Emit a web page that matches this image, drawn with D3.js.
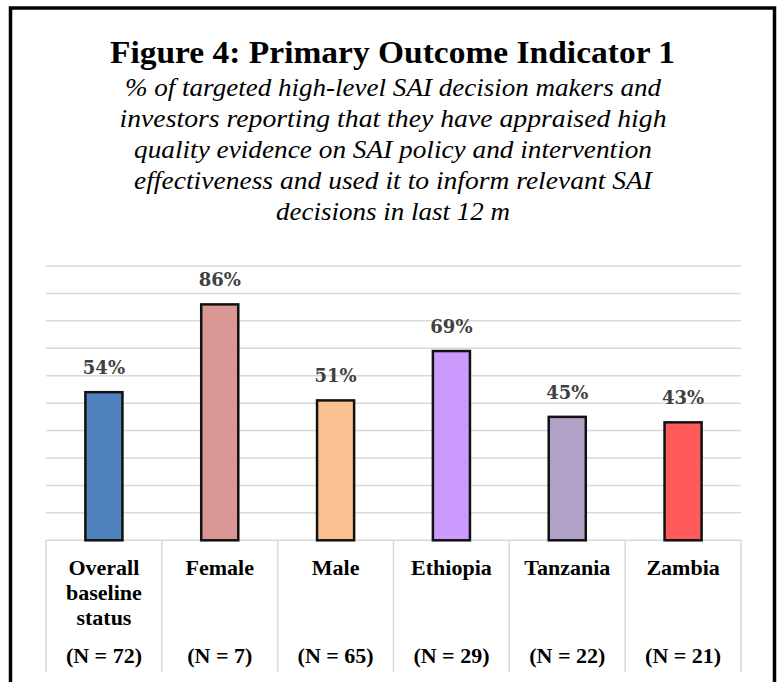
<!DOCTYPE html>
<html>
<head>
<meta charset="utf-8">
<script src="https://cdn.jsdelivr.net/npm/d3@7"></script>
<style>
  body { margin: 0; background: #fff; }
  .title { font-family: "Liberation Serif", serif; font-weight: bold; fill: #000; }
  .subtitle { font-family: "Liberation Serif", serif; font-style: italic; fill: #000; }
  .cat-label { font-family: "Liberation Serif", serif; font-weight: bold; fill: #000; }
  .value-label { font-family: "DejaVu Serif", serif; font-weight: bold; fill: #404040; }
</style>
</head>
<body>
<div id="vis"></div>
<script>
// chart data
const categories = ['Overall baseline status', 'Female', 'Male', 'Ethiopia', 'Tanzania', 'Zambia'];
const labelLines = [['Overall', 'baseline', 'status'], ['Female'], ['Male'], ['Ethiopia'], ['Tanzania'], ['Zambia']];
const sampleSizes = [72, 7, 65, 29, 22, 21];
const values = [54, 86, 51, 69, 45, 43];
const barColors = ['#4F81BD', '#D99694', '#FAC090', '#CC99FF', '#B3A2C7', '#FF5B5B'];
const gridTicks = [0, 10, 20, 30, 40, 50, 60, 70, 80, 90, 100];

const titleText = 'Figure 4: Primary Outcome Indicator 1';
const subtitleLines = [
  '% of targeted high-level SAI decision makers and',
  'investors reporting that they have appraised high',
  'quality evidence on SAI policy and intervention',
  'effectiveness and used it to inform relevant SAI',
  'decisions in last 12 m'
];
const subtitleWidths = [536, 547, 518, 518, 234];

const W = 781, H = 682;
// plot area (the table below shares the same left/right edges)
const plot = {left: 46, right: 741, top: 266, bottom: 540.3, tableBottom: 672};

const svg = d3.select('#vis')
  .append('svg')
  .attr('width', W)
  .attr('height', H);

// outer frame, open at the bottom
svg.append('path')
  .attr('d', `M10.5,${H} V8 H774.5 V${H}`)
  .attr('fill', 'none')
  .attr('stroke', '#000')
  .attr('stroke-width', 3.5);

// title + subtitle
svg.append('text')
  .attr('class', 'title')
  .attr('x', 392.5)
  .attr('y', 63)
  .attr('text-anchor', 'middle')
  .attr('font-size', 32)
  .attr('textLength', 565)
  .attr('lengthAdjust', 'spacingAndGlyphs')
  .text(titleText);

svg.selectAll('.subtitle')
  .data(subtitleLines)
  .join('text')
  .attr('class', 'subtitle')
  .attr('x', 393)
  .attr('y', (d, i) => 95.5 + i * 31)
  .attr('text-anchor', 'middle')
  .attr('font-size', 25)
  .attr('textLength', (d, i) => subtitleWidths[i])
  .attr('lengthAdjust', 'spacingAndGlyphs')
  .text(d => d);

// scales
const xScale = d3.scaleBand()
  .domain(categories)
  .range([plot.left, plot.right])
  .padding(0);

const yScale = d3.scaleLinear()
  .domain([0, 100])
  .range([plot.bottom, plot.top]);

const barW = xScale.bandwidth() * 0.32;

// horizontal gridlines
svg.append('g')
  .selectAll('line')
  .data(gridTicks)
  .join('line')
  .attr('x1', plot.left)
  .attr('x2', plot.right)
  .attr('y1', d => yScale(d))
  .attr('y2', d => yScale(d))
  .attr('stroke', '#d9d9d9')
  .attr('stroke-width', 1.5);

// table vertical lines under the axis
const boundaries = categories.map(c => xScale(c)).concat([plot.right]);
svg.append('g')
  .selectAll('line')
  .data(boundaries)
  .join('line')
  .attr('x1', d => d)
  .attr('x2', d => d)
  .attr('y1', yScale(0))
  .attr('y2', plot.tableBottom)
  .attr('stroke', '#d9d9d9')
  .attr('stroke-width', 1.5);

// bars
svg.selectAll('.bar')
  .data(values)
  .join('rect')
  .attr('class', 'bar')
  .attr('x', (d, i) => xScale(categories[i]) + (xScale.bandwidth() - barW) / 2)
  .attr('y', d => yScale(d))
  .attr('width', barW)
  .attr('height', d => yScale(0) - yScale(d))
  .attr('fill', (d, i) => barColors[i])
  .attr('stroke', '#111')
  .attr('stroke-width', 2.5);

// value labels
svg.selectAll('.value-label')
  .data(values)
  .join('text')
  .attr('class', 'value-label')
  .attr('x', (d, i) => xScale(categories[i]) + xScale.bandwidth() / 2)
  .attr('y', d => yScale(d) - 18)
  .attr('text-anchor', 'middle')
  .attr('font-size', 18)
  .text(d => d + '%');

// category labels in the table
const cells = svg.selectAll('.cat')
  .data(categories)
  .join('g')
  .attr('class', 'cat')
  .attr('transform', d => `translate(${xScale(d) + xScale.bandwidth() / 2},0)`);

cells.each(function(d, i) {
  const g = d3.select(this);
  labelLines[i].forEach((line, j) => {
    g.append('text')
      .attr('class', 'cat-label')
      .attr('y', 575 + j * 25)
      .attr('text-anchor', 'middle')
      .attr('font-size', 22)
      .text(line);
  });
  g.append('text')
    .attr('class', 'cat-label')
    .attr('y', 663)
    .attr('text-anchor', 'middle')
    .attr('font-size', 22)
    .text(`(N = ${sampleSizes[i]})`);
});
</script>
</body>
</html>
